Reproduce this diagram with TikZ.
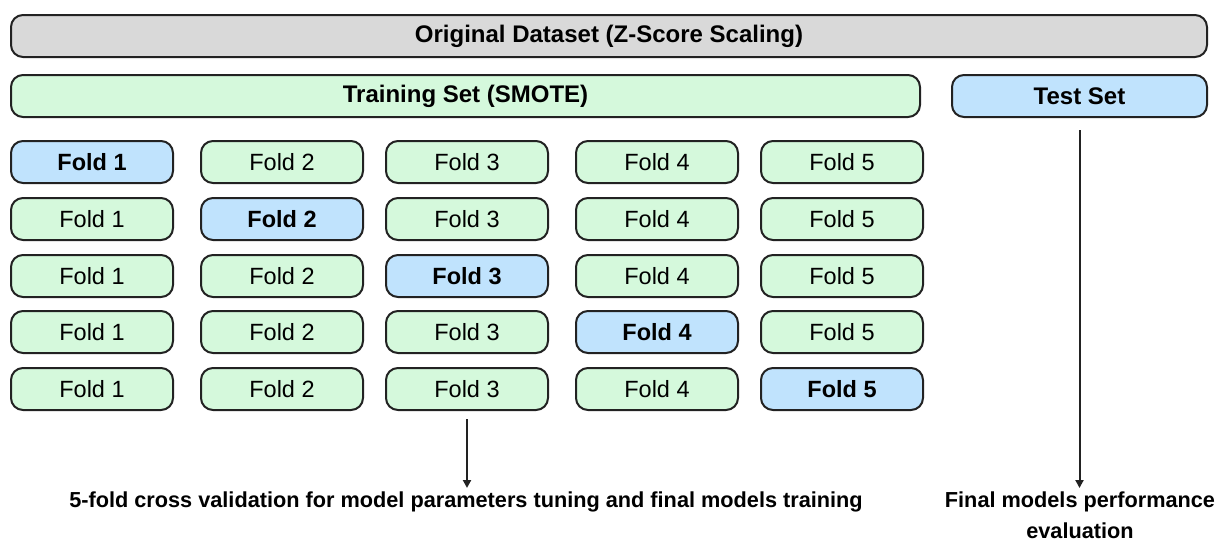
\documentclass[tikz,border=0pt]{standalone}
\usepackage{fontspec}
\setmainfont{Liberation Sans}
\usetikzlibrary{arrows.meta}
\definecolor{grayfill}{HTML}{D9D9D9}
\definecolor{greenfill}{HTML}{D5F9DC}
\definecolor{bluefill}{HTML}{C0E3FD}
\definecolor{linec}{HTML}{222222}
\tikzset{
  box/.style={draw=linec, line width=2pt, rounded corners=12pt, anchor=north west, inner sep=0pt, align=center, outer sep=0pt},
  trainbox/.style={box, fill=greenfill, font=\fontsize{23.5}{27}\selectfont},
  valbox/.style={box, fill=bluefill, font=\fontsize{23.5}{27}\selectfont\bfseries},
  foldw/.style={minimum width=162pt, minimum height=42pt},
  conn/.style={draw=linec, line width=2pt, -{Triangle[length=8pt,width=8pt]}},
  caption/.style={font=\fontsize{21.7}{31}\selectfont\bfseries, align=center, anchor=north}
}
\begin{document}
\begin{tikzpicture}[x=1pt,y=-1pt]
\useasboundingbox (0,0) rectangle (1223,541);
\node[box, fill=grayfill, minimum width=1196pt, minimum height=42pt, font=\fontsize{24}{28}\selectfont\bfseries] (orig) at (11,15) {Original Dataset (Z-Score Scaling)};
\node[box, fill=greenfill, minimum width=909pt, minimum height=42pt, font=\fontsize{24}{28}\selectfont\bfseries] (train) at (11,75) {Training Set (SMOTE)};
\node[box, fill=bluefill, minimum width=255pt, minimum height=42pt, font=\fontsize{24}{28}\selectfont\bfseries] (test) at (952,75) {Test Set};
\foreach \r/\y in {1/141,2/198,3/255,4/311,5/368}{
  \foreach \c/\x in {1/11,2/201,3/386,4/576,5/761}{
    \ifnum\r=\c
      \node[valbox, foldw] (f\r\c) at (\x,\y) {Fold \c};
    \else
      \node[trainbox, foldw] (f\r\c) at (\x,\y) {Fold \c};
    \fi
  }
}
\node[caption] (cv) at (466,488) {5-fold cross validation for model parameters tuning and final models training};
\node[caption] (fin) at (1080,488) {Final models performance\\evaluation};
\coordinate (cvs) at ([yshift=-9pt]f53.south);
\coordinate (tes) at ([yshift=-13pt]test.south);
\draw[conn] (cvs) -- (cvs |- cv.north);
\draw[conn] (tes) -- (tes |- fin.north);
\end{tikzpicture}
\end{document}
